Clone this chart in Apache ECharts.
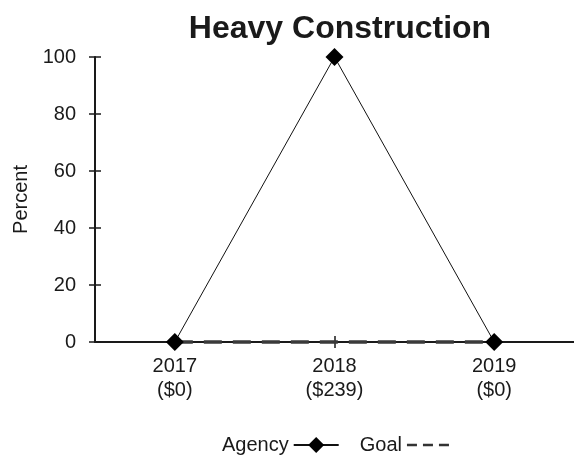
<!DOCTYPE html>
<html>
<head>
<meta charset="utf-8">
<script src="https://cdn.jsdelivr.net/npm/echarts@6/dist/echarts.min.js"></script>
<style>
  html, body { margin: 0; padding: 0; background: #fff; }
  #chart { width: 574px; height: 456px; }
</style>
</head>
<body>
<div id="chart"></div>
<script>
// data
const years = ['2017\n($0)', '2018\n($239)', '2019\n($0)'];
const agency = [0, 100, 0];
const goal = [0, 0, 0];
const yTicks = { min: 0, max: 100, interval: 20 };

const chart = echarts.init(document.getElementById('chart'));
const font = "'Liberation Sans', Arial, sans-serif";
const ink = '#1a1a1a';

// shared axis look; second copy draws the inside half of the crossing ticks
const yBase = {
  type: 'value',
  min: yTicks.min,
  max: yTicks.max,
  interval: yTicks.interval,
  position: 'left',
  axisLine: { show: true, lineStyle: { color: ink, width: 2 } },
  splitLine: { show: false }
};

chart.setOption({
  animation: false,
  title: {
    text: 'Heavy Construction',
    left: 335,
    top: 8,
    textAlign: 'center',
    textStyle: { fontFamily: font, fontSize: 32, fontWeight: 'bold', color: ink }
  },
  grid: { left: 95, top: 57, width: 483, bottom: 114 },
  legend: {
    top: 430,
    left: 217,
    align: 'right',
    itemWidth: 45,
    itemHeight: 20,
    itemGap: 20,
    textStyle: { fontFamily: font, fontSize: 20, color: ink },
    data: [
      { name: 'Agency' },
      { name: 'Goal', itemStyle: { color: 'rgba(0,0,0,0)', borderWidth: 0 },
        lineStyle: { type: [10, 6], width: 2.5, color: '#333' } }
    ]
  },
  xAxis: [{
    type: 'category',
    data: years,
    boundaryGap: true,
    axisLine: { lineStyle: { color: ink, width: 2 } },
    axisTick: { show: true, alignWithLabel: true, length: 6, lineStyle: { color: ink, width: 1.5 } },
    axisLabel: { margin: 12, fontFamily: font, fontSize: 20, color: ink, lineHeight: 24 }
  }, {
    type: 'category',
    data: years,
    position: 'bottom',
    boundaryGap: true,
    axisLine: { show: false },
    axisTick: { show: true, inside: true, alignWithLabel: true, length: 6, lineStyle: { color: ink, width: 1.5 } },
    axisLabel: { show: false }
  }],
  yAxis: [Object.assign({}, yBase, {
    name: 'Percent',
    nameLocation: 'middle',
    nameGap: 64,
    nameTextStyle: { fontFamily: font, fontSize: 20, color: ink },
    axisTick: { show: true, length: 6, lineStyle: { color: ink, width: 1.5 } },
    axisLabel: { margin: 19, fontFamily: font, fontSize: 20, color: ink }
  }), Object.assign({}, yBase, {
    axisLine: { show: false },
    axisTick: { show: true, inside: true, length: 6, lineStyle: { color: ink, width: 1.5 } },
    axisLabel: { show: false }
  })],
  series: [{
    name: 'Goal',
    type: 'line',
    data: goal,
    symbol: 'none',
    clip: false,
    lineStyle: { color: '#3a3a3a', width: 3.5, type: [18, 11] },
    itemStyle: { color: '#3a3a3a' },
    z: 2
  }, {
    name: 'Agency',
    type: 'line',
    data: agency,
    symbol: 'diamond',
    symbolSize: 18,
    clip: false,
    lineStyle: { color: '#111', width: 1 },
    itemStyle: { color: '#000' },
    z: 3
  }]
});
</script>
</body>
</html>
